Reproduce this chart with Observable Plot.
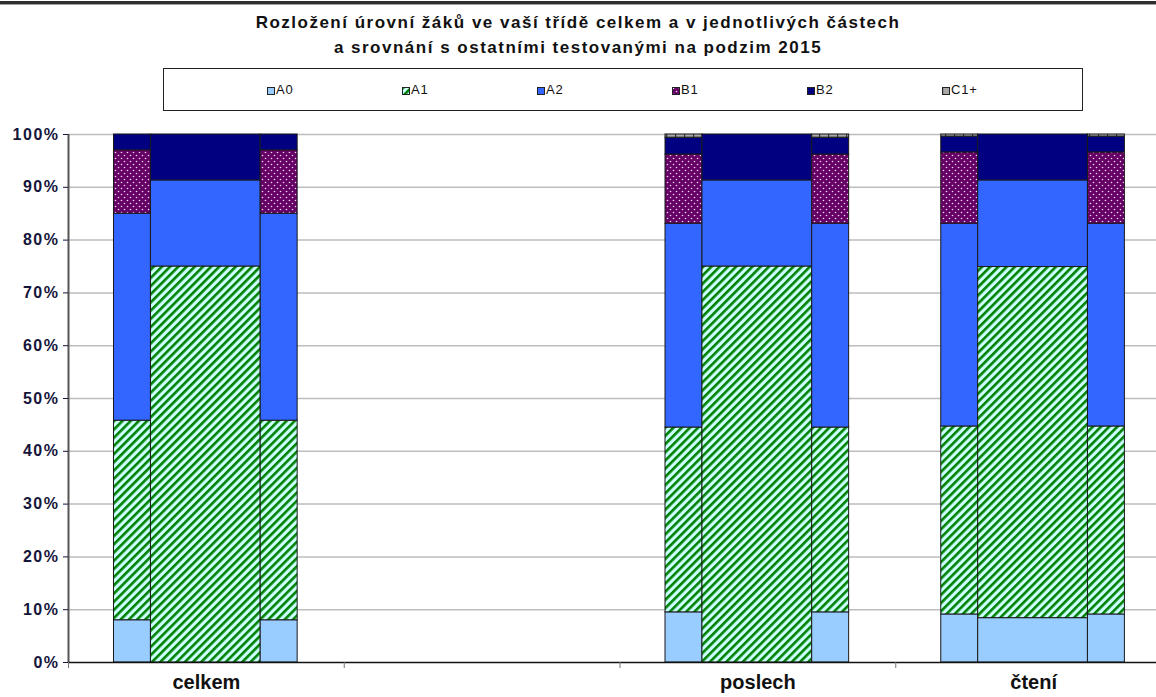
<!DOCTYPE html>
<html><head><meta charset="utf-8">
<script src="https://cdn.jsdelivr.net/npm/d3@7"></script>
<script src="https://cdn.jsdelivr.net/npm/@observablehq/plot@0.6"></script>
<style>
html,body{margin:0;padding:0;background:#fff;}
body{width:1156px;height:697px;position:relative;overflow:hidden;font-family:"Liberation Sans",Arial,sans-serif;}
#topline{position:absolute;left:0;top:1px;width:1156px;height:3px;background:#2e2e2e;border-bottom:1px solid #a0a0a0;}
#title{position:absolute;left:0;top:10px;width:1156px;text-align:center;font-weight:bold;font-size:17px;line-height:25px;color:#111;letter-spacing:1.5px;}
#legend{position:absolute;left:163px;top:68px;width:918px;height:41px;border:1px solid #222;background:#fff;}
.item{position:absolute;top:14px;height:14px;font-size:13px;line-height:14px;color:#111;letter-spacing:0.8px;white-space:nowrap;}
.item svg{display:inline-block;vertical-align:-1px;margin-right:1px;}
#chart{position:absolute;left:0;top:115px;}
#chart g[aria-label="y-axis tick label"] text{letter-spacing:1.5px;}
</style>
</head><body>
<svg width="0" height="0" style="position:absolute">
  <defs>
    <pattern id="pA1" width="5.8" height="5.8" patternUnits="userSpaceOnUse" patternTransform="rotate(45)">
      <rect width="5.8" height="5.8" fill="#ccffff"/><rect width="2.6" height="5.8" fill="#008000"/>
    </pattern>
    <pattern id="pB1" width="6" height="6" patternUnits="userSpaceOnUse">
      <rect width="6" height="6" fill="#660066"/>
      <circle cx="1.5" cy="1.5" r="0.8" fill="#f2dcf2"/><circle cx="4.5" cy="4.5" r="0.8" fill="#f2dcf2"/>
    </pattern>
    <pattern id="pC1" width="9" height="4" patternUnits="userSpaceOnUse">
      <rect width="9" height="4" fill="#a9a9a9"/><rect width="1.2" height="4" fill="#333"/>
    </pattern>
  </defs>
</svg>
<div id="topline"></div>
<div id="title">Rozložení úrovní žáků ve vaší třídě celkem a v jednotlivých částech<br>a srovnání s ostatními testovanými na podzim 2015</div>
<div id="legend"></div>
<div id="chart"></div>
<script>
// ---- data ----
const categories = ["celkem", "", "poslech", "čtení"];
const levels = ["A0", "A1", "A2", "B1", "B2", "C1+"];
const barKeys = ["L", "M", "R"];
// shares (%) per level A0..C1+
const celkemTrida = [8.0, 37.8, 39.2, 12.0, 3.0, 0];
const celkemOstatni = [0, 75.0, 16.3, 0, 8.7, 0];
const poslechTrida = [9.5, 35.0, 38.6, 13.1, 3.2, 0.6];
const poslechOstatni = [0, 75.0, 16.3, 0, 8.7, 0];
const cteniTrida = [9.1, 35.6, 38.4, 13.5, 3.0, 0.4];
const cteniOstatni = [8.4, 66.5, 16.4, 0, 8.7, 0];
const yTicks = [0, 10, 20, 30, 40, 50, 60, 70, 80, 90, 100];

const series = {
  "celkem": {L: celkemTrida, M: celkemOstatni, R: celkemTrida},
  "poslech": {L: poslechTrida, M: poslechOstatni, R: poslechTrida},
  "čtení": {L: cteniTrida, M: cteniOstatni, R: cteniTrida}
};

// ---- styles / layout ----
const fills = ["#99ccff", "url(#pA1)", "#3366ff", "url(#pB1)", "#000080", "url(#pC1)"];
const barSpan = {L: [0.165, 0.299], M: [0.299, 0.697], R: [0.697, 0.831]};

// legend
const legend = document.getElementById("legend");
const legendX = [267, 402, 537, 672, 807, 942];
levels.forEach((l, i) => {
  const it = document.createElement("div");
  it.className = "item";
  it.style.left = (legendX[i] - 164) + "px";
  it.innerHTML = `<svg width="8" height="8"><rect x="0.5" y="0.5" width="7" height="7" fill="${fills[i]}" stroke="#222"/></svg>${l}`;
  legend.appendChild(it);
});

// rows with stacks
const rows = [];
categories.forEach((c, ci) => {
  const s = series[c];
  if (!s) return;
  barKeys.forEach(b => {
    let acc = 0;
    s[b].forEach((v, k) => {
      if (v > 0) rows.push({cat: c, ci, bar: b, level: levels[k], y1: acc, y2: acc + v});
      acc += v;
    });
  });
});

const chart = Plot.plot({
  width: 1156,
  height: 582,
  marginTop: 19,
  marginBottom: 35,
  marginLeft: 68,
  marginRight: 0,
  style: {fontFamily: "'Liberation Sans', Arial, sans-serif", background: "white", color: "#111"},
  x: {domain: [0, 4], range: [68, 1171], label: null},
  y: {domain: [0, 100], label: null},
  color: {type: "ordinal", domain: levels, range: fills},
  marks: [
    Plot.ruleY(yTicks.filter(d => d > 0), {stroke: "#bdbdbd", strokeWidth: 1.5}),
    Plot.rectY(rows, {
      x1: d => d.ci + barSpan[d.bar][0],
      x2: d => d.ci + barSpan[d.bar][1],
      y1: "y1", y2: "y2",
      fill: "level",
      stroke: "#1a1a1a", strokeWidth: 1
    }),
    Plot.ruleX([0], {y1: 0, y2: 100, stroke: "#555", strokeWidth: 2}),
    Plot.ruleY([0], {stroke: "#111", strokeWidth: 1.5}),
    Plot.axisY({ticks: yTicks, tickFormat: d => d + "%", tickSize: 5, tickPadding: 4,
      fontSize: 16, fontWeight: "bold", color: "#15153a"}),
    Plot.axisX({ticks: [0, 1, 2, 3], tickSize: 6, tickFormat: () => "", stroke: "#777"}),
    Plot.text(categories, {x: (d, i) => i + 0.5, frameAnchor: "bottom", dy: 26,
      fontSize: 20, fontWeight: "bold", fill: "#111", letterSpacing: "0.8px"})
  ]
});
document.getElementById("chart").appendChild(chart);
</script>
</body></html>
